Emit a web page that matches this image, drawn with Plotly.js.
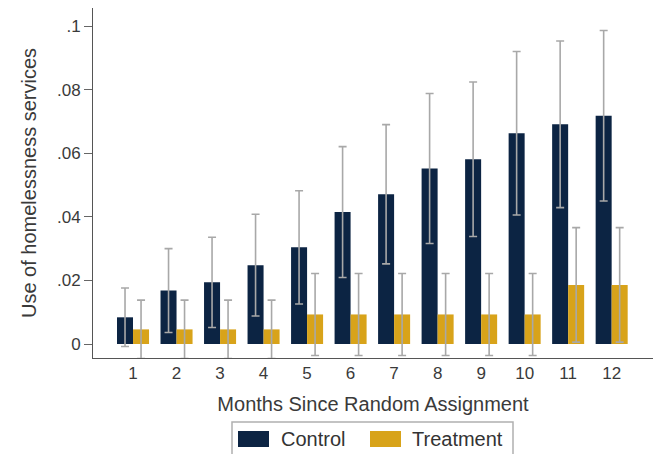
<!DOCTYPE html>
<html>
<head>
<meta charset="utf-8">
<script src="https://cdn.plot.ly/plotly-3.0.1.min.js"></script>
<style>html,body{margin:0;padding:0;background:#fff;}</style>
</head>
<body>
<div id="chart" style="width:657px;height:454px;"></div>
<script>
const months = [1,2,3,4,5,6,7,8,9,10,11,12];
const seriesNames = ['Control','Treatment'];
const controlMean = [0.0084,0.0168,0.0194,0.0248,0.0304,0.0415,0.0471,0.0552,0.0581,0.0663,0.0691,0.0718];
const controlErr  = [0.0092,0.0132,0.0142,0.0160,0.0178,0.0206,0.0219,0.0236,0.0243,0.0257,0.0262,0.0268];
const treatMean   = [0.0046,0.0046,0.0046,0.0046,0.0093,0.0093,0.0093,0.0093,0.0093,0.0093,0.0186,0.0186];
const treatErr    = [0.0092,0.0092,0.0092,0.0092,0.0129,0.0129,0.0129,0.0129,0.0129,0.0129,0.0180,0.0180];
const yTickVals = [0,0.02,0.04,0.06,0.08,0.1];
const yTickText = ['0','.02','.04','.06','.08','.1'];

const colors = ['#0c2443','#d8a31a'];
const errStyle = {type:'data', visible:true, color:'#a8a8a8', thickness:1.6, width:4};

const traces = [
  {type:'bar', name:seriesNames[0], x:months, y:controlMean, showlegend:false,
   marker:{color:colors[0]},
   error_y:Object.assign({array:controlErr}, errStyle)},
  {type:'bar', name:seriesNames[1], x:months, y:treatMean, showlegend:false,
   marker:{color:colors[1]},
   error_y:Object.assign({array:treatErr}, errStyle)}
];

// Plot area geometry (pixels) used to place the custom legend
const L = 93, W = 560, T = 8, H = 350;
const px = v => (v - L) / W;
const py = v => (T + H - v) / H;

const shapes = [
  {type:'rect', xref:'paper', yref:'paper', x0:px(232), x1:px(513), y0:py(422), y1:py(470),
   line:{color:'#b0b0b0', width:1.5}, fillcolor:'rgba(0,0,0,0)'},
  {type:'rect', xref:'paper', yref:'paper', x0:px(238), x1:px(269), y0:py(431), y1:py(447),
   line:{width:0}, fillcolor:colors[0]},
  {type:'rect', xref:'paper', yref:'paper', x0:px(370), x1:px(401), y0:py(431), y1:py(447),
   line:{width:0}, fillcolor:colors[1]}
];
const annotations = [
  {xref:'paper', yref:'paper', x:px(279), y:py(439), xanchor:'left', yanchor:'middle',
   text:seriesNames[0], showarrow:false, font:{size:20, color:'#333'}},
  {xref:'paper', yref:'paper', x:px(410), y:py(439), xanchor:'left', yanchor:'middle',
   text:seriesNames[1], showarrow:false, font:{size:20, color:'#333'}}
];

const layout = {
  width:657, height:454,
  margin:{l:L, r:657-L-W, t:T, b:454-T-H, autoexpand:false},
  paper_bgcolor:'#ffffff', plot_bgcolor:'#ffffff',
  barmode:'group', bargap:0.264, bargroupgap:0,
  font:{family:'Liberation Sans, Arial, sans-serif', color:'#3a3a3a'},
  showlegend:false,
  shapes:shapes, annotations:annotations,
  xaxis:{range:[0.08,12.95], tickvals:months, ticktext:months.map(String),
         showgrid:false, zeroline:false, showline:true, linecolor:'#555', linewidth:1,
         ticks:'', tickfont:{size:17, color:'#3a3a3a'}, automargin:false,
         title:{text:'Months Since Random Assignment', font:{size:20, color:'#3a3a3a'}, standoff:14}},
  yaxis:{range:[-0.0044,0.1057], tickvals:yTickVals, ticktext:yTickText,
         showgrid:false, zeroline:false, showline:true, linecolor:'#555', linewidth:1,
         ticks:'outside', ticklen:8, tickcolor:'#666', tickwidth:1, automargin:false,
         tickfont:{size:17, color:'#3a3a3a'},
         title:{text:'Use of homelessness services', font:{size:20, color:'#3a3a3a'}, standoff:14}}
};

Plotly.newPlot('chart', traces, layout, {displayModeBar:false, staticPlot:true});
</script>
</body>
</html>
